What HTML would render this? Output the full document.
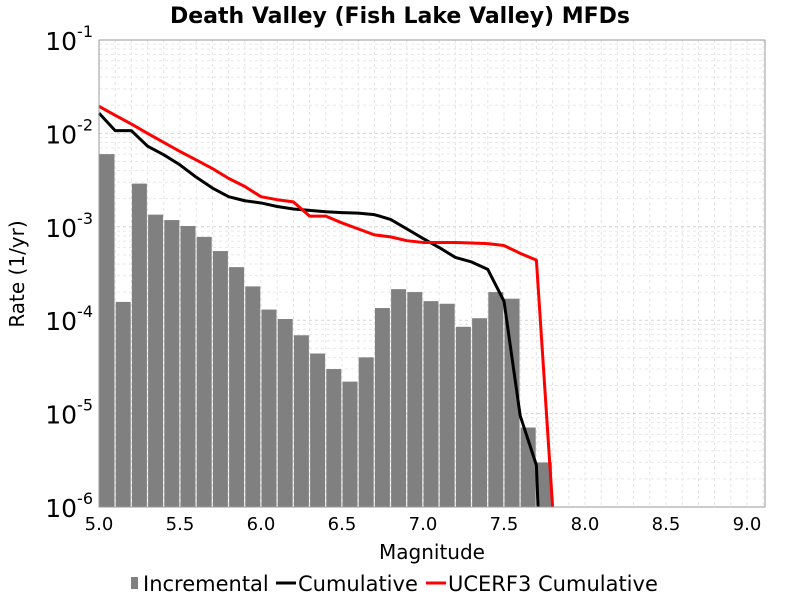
<!DOCTYPE html>
<html><head><meta charset="utf-8"><style>
body{margin:0;background:#fff;font-family:"Liberation Sans","DejaVu Sans",sans-serif}
</style></head><body>
<svg id="c" width="800" height="600" xmlns="http://www.w3.org/2000/svg" font-family="DejaVu Sans, Liberation Sans, sans-serif">
<text x="400" y="23" text-anchor="middle" font-size="22" font-weight="bold">Death Valley (Fish Lake Valley) MFDs</text>
<g id="grid"></g>
<g id="bars"></g>
<g id="lines"></g>
<rect x="99" y="40" width="666" height="467" fill="none" stroke="#999"/>
<g id="axes"></g>
<text x="432" y="559" text-anchor="middle" font-size="20">Magnitude</text>
<text transform="translate(24,274) rotate(-90)" text-anchor="middle" font-size="20">Rate (1/yr)</text>
<g font-size="21">
<g><rect x="131" y="577" width="7" height="12" fill="#808080"/><text x="143" y="591">Incremental</text></g>
<g><line x1="276" y1="583" x2="296" y2="583" stroke="#000" stroke-width="3"/><text x="298" y="591">Cumulative</text></g>
<g><line x1="426" y1="583" x2="446" y2="583" stroke="#f00" stroke-width="3"/><text x="448" y="591">UCERF3 Cumulative</text></g>
</g>
</svg>
<script>
const mags=[5.0,5.1,5.2,5.3,5.4,5.5,5.6,5.7,5.8,5.9,6.0,6.1,6.2,6.3,6.4,6.5,6.6,6.7,6.8,6.9,7.0,7.1,7.2,7.3,7.4,7.5,7.6,7.7];
const incremental=[6.0e-3,1.57e-4,2.9e-3,1.35e-3,1.18e-3,1.02e-3,7.8e-4,5.5e-4,3.7e-4,2.3e-4,1.3e-4,1.03e-4,6.9e-5,4.4e-5,3.0e-5,2.2e-5,4.0e-5,1.35e-4,2.15e-4,2.0e-4,1.6e-4,1.5e-4,8.5e-5,1.05e-4,2.0e-4,1.7e-4,7.1e-6,3.0e-6];
const cumMags=[5.0,5.1,5.2,5.3,5.4,5.5,5.6,5.7,5.8,5.9,6.0,6.1,6.2,6.3,6.4,6.5,6.6,6.7,6.8,6.9,7.0,7.1,7.2,7.3,7.4,7.5,7.6,7.7,7.71];
const cumulative=[1.65e-2,1.07e-2,1.07e-2,7.3e-3,5.9e-3,4.6e-3,3.4e-3,2.6e-3,2.1e-3,1.9e-3,1.8e-3,1.65e-3,1.55e-3,1.5e-3,1.45e-3,1.42e-3,1.4e-3,1.35e-3,1.2e-3,9.5e-4,7.5e-4,6.0e-4,4.7e-4,4.2e-4,3.5e-4,1.6e-4,9.5e-6,2.8e-6,1e-6];
const uMags=[5.0,5.1,5.2,5.3,5.4,5.5,5.6,5.7,5.8,5.9,6.0,6.1,6.2,6.3,6.4,6.5,6.6,6.7,6.8,6.9,7.0,7.1,7.2,7.3,7.4,7.5,7.6,7.7,7.8];
const ucerf3=[1.95e-2,1.56e-2,1.26e-2,1.0e-2,8.0e-3,6.4e-3,5.2e-3,4.2e-3,3.3e-3,2.7e-3,2.1e-3,1.95e-3,1.85e-3,1.3e-3,1.3e-3,1.1e-3,9.5e-4,8.2e-4,7.8e-4,7.1e-4,6.8e-4,6.8e-4,6.8e-4,6.7e-4,6.6e-4,6.3e-4,5.2e-4,4.4e-4,1e-6];
const xTicks=[5.0,5.5,6.0,6.5,7.0,7.5,8.0,8.5,9.0];
const yExps=[-6,-5,-4,-3,-2,-1];
const NS="http://www.w3.org/2000/svg";
const X=m=>99+(m-5)*162;
const Y=v=>40+(-1-Math.log10(v))*93.4;
function mk(t,a,p){const e=document.createElementNS(NS,t);for(const k in a)e.setAttribute(k,a[k]);p.appendChild(e);return e;}
const grid=document.getElementById('grid'),bars=document.getElementById('bars'),lines=document.getElementById('lines'),axes=document.getElementById('axes');
for(let m=5.0;m<=9.11;m+=0.1){const x=X(m);const l=mk('line',{x1:x,x2:x,y1:40,y2:507,stroke:'#e4e4e4','stroke-dasharray':'3,3'},grid);

}
for(let e=-6;e<-1;e++)for(let k=1;k<10;k++){const y=Y(k*Math.pow(10,e));const l=mk('line',{x1:99,x2:765,y1:y,y2:y,stroke:k==1?'#d4d4d4':'#e8e8e8','stroke-dasharray':'3,3'},grid);

}
mags.forEach((m,i)=>{const y=Y(incremental[i]);const r=mk('rect',{x:X(m)+0.5,y:y,width:15,height:507-y,fill:'#808080'},bars);

});
function line(ms,vs,col,name){const p=mk('polyline',{points:ms.map((m,i)=>X(m)+','+Math.min(507,Y(vs[i]))).join(' '),fill:'none',stroke:col,'stroke-width':3,'stroke-linejoin':'round'},lines);

}
line(cumMags,cumulative,'#000','cumulative-line');
line(uMags,ucerf3,'#f00','ucerf3-cumulative-line');
xTicks.forEach(t=>{const x=X(t);const tx=mk('text',{x:x,y:530,'text-anchor':'middle','font-size':18},axes);tx.textContent=t.toFixed(1);

});
yExps.forEach(e=>{const y=Y(Math.pow(10,e));const tx=mk('text',{x:93,y:y+10,'text-anchor':'end','font-size':25},axes);
tx.innerHTML='10<tspan dy="-13" font-size="16">'+e+'</tspan>';

});
</script>
</body></html>
